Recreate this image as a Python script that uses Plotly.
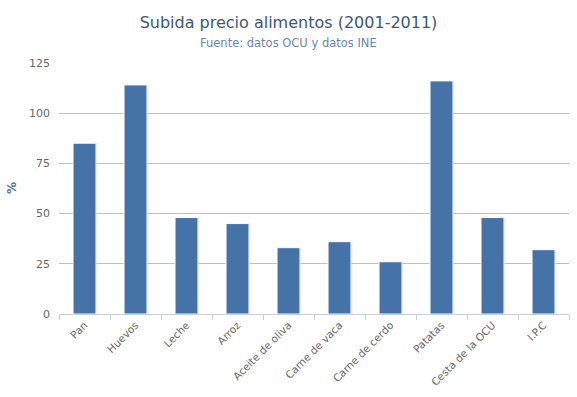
import plotly.graph_objects as go

categories = ["Pan", "Huevos", "Leche", "Arroz", "Aceite de oliva", "Carne de vaca",
              "Carne de cerdo", "Patatas", "Cesta de la OCU", "I.P.C"]
values = [85, 114, 48, 45, 33, 36, 26, 116, 48, 32]
y_ticks = [0, 25, 50, 75, 100, 125]

FONT = "DejaVu Sans"

fig = go.Figure()
# shadow
fig.add_trace(go.Bar(
    x=categories, y=values, width=0.45, offset=-0.2,
    marker=dict(color="rgba(0,0,0,0.12)", line=dict(width=0)),
    hoverinfo="skip", showlegend=False,
))
fig.add_trace(go.Bar(
    x=categories, y=values, width=0.45, offset=-0.225,
    marker=dict(color="#4572A7", line=dict(color="#FFFFFF", width=1)),
    showlegend=False,
))

fig.update_layout(
    width=577, height=397,
    margin=dict(l=59, r=8, t=62, b=83, autoexpand=False),
    paper_bgcolor="white", plot_bgcolor="white",
    barmode="overlay",
    font=dict(family=FONT),
    title=dict(text="Subida precio alimentos (2001-2011)", x=0.5, xanchor="center",
               y=1 - 22 / 397, yanchor="middle",
               font=dict(family=FONT, size=16, color="#3E576F")),
    annotations=[
        dict(text="Fuente: datos OCU y datos INE", xref="paper", yref="paper",
             x=(288.5 - 59) / 510, y=1, xanchor="center", yanchor="middle",
             yshift=(62 - 43), showarrow=False,
             font=dict(family=FONT, size=11.5, color="#6D869F")),
        dict(text="<b>%</b>", xref="paper", yref="paper",
             x=(12 - 59) / 510, y=0.5, xanchor="center", yanchor="middle",
             textangle=-90, showarrow=False,
             font=dict(family=FONT, size=12, color="#4D759E")),
    ],
)
fig.update_xaxes(
    type="category", tickson="boundaries", ticks="outside", ticklen=5,
    tickcolor="#C0D0E0", showline=True, linecolor="#C0D0E0", linewidth=1,
    tickangle=-45, tickfont=dict(family=FONT, size=10.5, color="#666666"),
    showgrid=False, range=[-0.5, 9.5], automargin=False,
)
fig.update_yaxes(
    range=[0, 125.4], tickvals=y_ticks, showgrid=True, gridcolor="#C0C0C0", gridwidth=1,
    zeroline=False, showline=False, tickfont=dict(family=FONT, size=11, color="#666666"),
    ticks="", ticklabelstandoff=8, automargin=False,
)
fig.write_html("out.html", config={"displayModeBar": False},
               post_script="document.body.style.margin='0';")
